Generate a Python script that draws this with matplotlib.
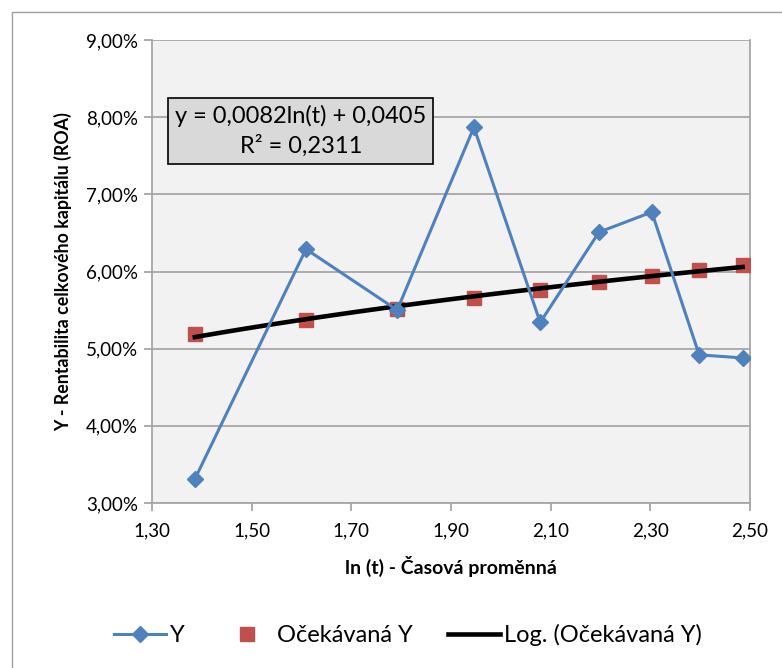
import numpy as np
import matplotlib
matplotlib.use("Agg")
import matplotlib.pyplot as plt
from matplotlib.patches import Rectangle
from matplotlib.lines import Line2D
from matplotlib.ticker import FuncFormatter, FixedLocator

plt.rcParams['font.family'] = ['Lato', 'DejaVu Sans']

# ln(t) for t = 4..12
x_ln_t = [1.386, 1.609, 1.792, 1.946, 2.079, 2.197, 2.303, 2.398, 2.485]
y_roa = [0.0331, 0.0629, 0.0550, 0.0787, 0.0534, 0.0651, 0.0677, 0.0492, 0.0488]
y_expected = [0.0519, 0.0537, 0.0552, 0.0566, 0.0576, 0.0586, 0.0594, 0.0602, 0.0609]

x_ticks = [1.30, 1.50, 1.70, 1.90, 2.10, 2.30, 2.50]
y_ticks = [0.03, 0.04, 0.05, 0.06, 0.07, 0.08, 0.09]

equation_text = "y = 0,0082ln(t) + 0,0405\nR² = 0,2311"
x_label = "ln (t) - Časová proměnná"
y_label = "Y - Rentabilita celkového kapitálu (ROA)"
legend_labels = ["Y", "Očekávaná Y", "Log. (Očekávaná Y)"]

blue = "#4F81BD"
red = "#C0504D"
grid_gray = "#A6A6A6"

fig = plt.figure(figsize=(7.82, 6.68), dpi=100)
fig.patch.set_facecolor("white")
# chart area border
fig.patches.append(Rectangle((12 / 782, -0.05), 1.2, 1 - 12 / 668 + 0.05,
                             transform=fig.transFigure, fill=False,
                             edgecolor="#A0A0A0", linewidth=1.0))

ax = fig.add_axes([152 / 782, 1 - 503 / 668, 598 / 782, 463 / 668])
ax.set_facecolor("#F2F2F2")

ax.set_xlim(x_ticks[0], x_ticks[-1])
ax.set_ylim(y_ticks[0], y_ticks[-1])
ax.xaxis.set_major_locator(FixedLocator(x_ticks))
ax.yaxis.set_major_locator(FixedLocator(y_ticks))
ax.xaxis.set_major_formatter(FuncFormatter(lambda v, p: f"{v:.2f}".replace(".", ",")))
ax.yaxis.set_major_formatter(FuncFormatter(lambda v, p: f"{v * 100:.2f}%".replace(".", ",")))

ax.grid(axis="y", color=grid_gray, linewidth=1.3)
ax.set_axisbelow(True)
for side in ["left", "bottom", "right"]:
    ax.spines[side].set_color(grid_gray)
    ax.spines[side].set_linewidth(1.3)
ax.spines["top"].set_visible(False)
ax.tick_params(axis="both", colors=grid_gray, labelcolor="black", labelsize=13.5,
               length=6, width=1.3, direction="out")
ax.tick_params(axis="x", pad=8)
ax.tick_params(axis="y", pad=4)

# logarithmic trendline fitted to the expected values
coef = np.polyfit(np.log(x_ln_t), y_expected, 1)
xs = np.linspace(min(x_ln_t), max(x_ln_t), 100)
ax.plot(xs, coef[0] * np.log(xs) + coef[1], color="black", linewidth=3.3, zorder=4)

ax.plot(x_ln_t, y_expected, linestyle="none", marker="s", markersize=10,
        color=red, zorder=3)
ax.plot(x_ln_t, y_roa, color=blue, linewidth=2.2, marker="D", markersize=8.5,
        zorder=5)

ax.text(0.2487, 0.8035, equation_text, transform=ax.transAxes, ha="center",
        va="center", fontsize=17, linespacing=1.4,
        bbox=dict(boxstyle="square,pad=0.3", facecolor="#D9D9D9",
                  edgecolor="black", linewidth=1.2), zorder=6)

ax.set_xlabel(x_label, fontsize=14, fontweight="bold", labelpad=12)
ax.set_ylabel(y_label, fontsize=12.8, fontweight="bold", labelpad=10)

handles = [
    Line2D([], [], color=blue, linewidth=2.2, marker="D", markersize=8.5),
    Line2D([], [], linestyle="none", marker="s", markersize=10, color=red),
    Line2D([], [], color="black", linewidth=3.3),
]
fig.legend(handles, legend_labels, loc="center", bbox_to_anchor=(408 / 782, 1 - 635 / 668),
           ncol=3, frameon=False, fontsize=17, handlelength=2.2,
           handletextpad=0.17, columnspacing=1.5)

fig.savefig("out.png", dpi=100)
